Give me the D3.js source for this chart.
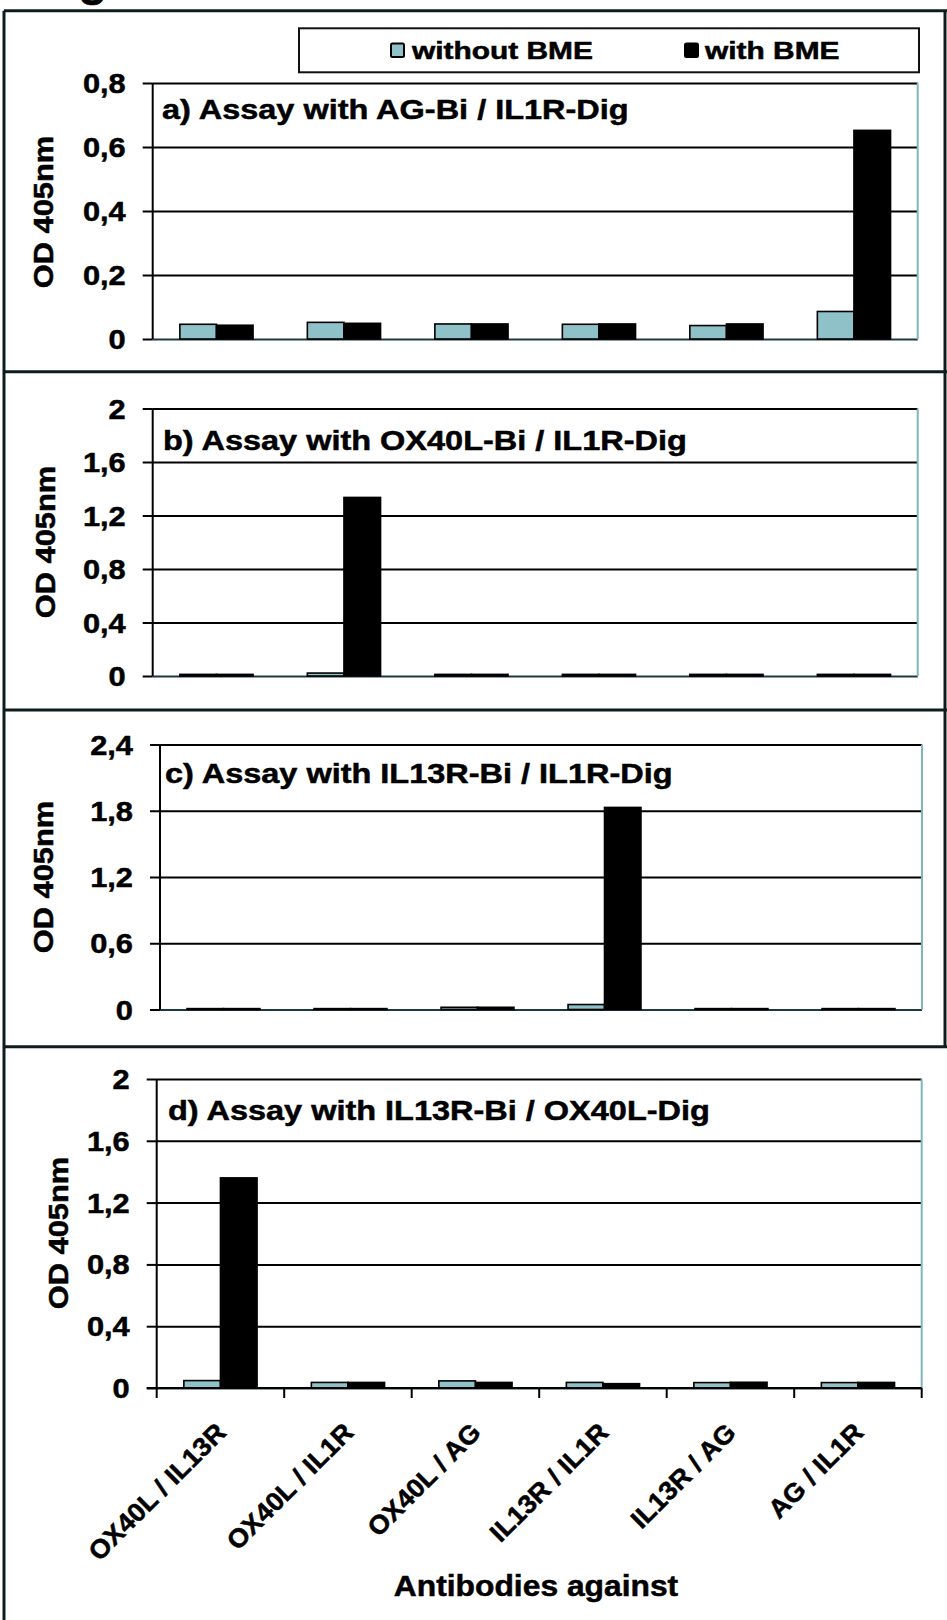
<!DOCTYPE html>
<html>
<head>
<meta charset="utf-8">
<script src="https://cdn.jsdelivr.net/npm/d3@7"></script>
<style>
  html, body { margin: 0; padding: 0; background: #fff; }
  svg { display: block; }
  text { font-family: "Liberation Sans", Arial, sans-serif; font-weight: bold; fill: #000; stroke: #000; stroke-width: 0.5px; }
</style>
</head>
<body>
<script>
// ---------------- DATA ----------------
const categories = ["OX40L / IL13R", "OX40L / IL1R", "OX40L / AG", "IL13R / IL1R", "IL13R / AG", "AG / IL1R"];
const seriesNames = ["without BME", "with BME"];
const panelTitles = [
  "a) Assay with AG-Bi / IL1R-Dig",
  "b) Assay with OX40L-Bi / IL1R-Dig",
  "c) Assay with IL13R-Bi / IL1R-Dig",
  "d) Assay with IL13R-Bi / OX40L-Dig"
];
const figureLabel = "g";
const withoutA = [0.046, 0.052, 0.047, 0.046, 0.042, 0.086];
const withA    = [0.043, 0.049, 0.047, 0.047, 0.047, 0.652];
const withoutB = [0.012, 0.022, 0.012, 0.012, 0.012, 0.012];
const withB    = [0.012, 1.335, 0.012, 0.012, 0.012, 0.012];
const withoutC = [0.008, 0.008, 0.020, 0.045, 0.008, 0.008];
const withC    = [0.008, 0.008, 0.020, 1.830, 0.008, 0.008];
const withoutD = [0.048, 0.036, 0.046, 0.036, 0.035, 0.035];
const withD    = [1.360, 0.036, 0.036, 0.028, 0.037, 0.036];
const ticksA = [0, 0.2, 0.4, 0.6, 0.8];
const ticksB = [0, 0.4, 0.8, 1.2, 1.6, 2];
const ticksC = [0, 0.6, 1.2, 1.8, 2.4];
const ticksD = [0, 0.4, 0.8, 1.2, 1.6, 2];
const yAxisTitle = "OD 405nm";
const xAxisTitle = "Antibodies against";

// ---------------- LAYOUT ----------------
const W = 947, H = 1620;
const colors = { without: "#8ec2c8", with: "#000000" };
const panels = [
  { title: panelTitles[0], without: withoutA, with: withA, ticks: ticksA,
    L: 152.7, R: 917.7, top: 83, bottom: 339, tx: 162, ty: 119, lx: 43, ly: 212 },
  { title: panelTitles[1], without: withoutB, with: withB, ticks: ticksB,
    L: 152.7, R: 917.7, top: 408.5, bottom: 676, tx: 163, ty: 450, lx: 45, ly: 542 },
  { title: panelTitles[2], without: withoutC, with: withC, ticks: ticksC,
    L: 160, R: 922, top: 744.5, bottom: 1009.5, tx: 165, ty: 783, lx: 43, ly: 877 },
  { title: panelTitles[3], without: withoutD, with: withD, ticks: ticksD,
    L: 156.7, R: 921.7, top: 1079, bottom: 1388, tx: 168, ty: 1120, lx: 58, ly: 1233, xAxis: true }
];

const svg = d3.select("body").append("svg")
  .attr("width", W).attr("height", H)
  .attr("viewBox", `0 0 ${W} ${H}`);
svg.append("rect").attr("width", W).attr("height", H).attr("fill", "#fff");

function addText(parent, x, y, str, size, anchor, sx, rot) {
  return parent.append("text")
    .attr("transform", `translate(${x},${y})` + (rot ? ` rotate(${rot})` : "") + ` scale(${sx},1)`)
    .attr("text-anchor", anchor)
    .attr("font-size", size)
    .text(str);
}

const fmt = d => String(d).replace(".", ",");

// partially cropped figure label at the very top
addText(svg, 78, -5, figureLabel, 48, "start", 1);

// ---------------- OUTER FRAME ----------------
const frameColor = "#0f1c1e";
const frame = svg.append("g").attr("stroke", frameColor).attr("stroke-width", 3).attr("fill", "none");
frame.append("line").attr("x1", 4).attr("x2", W).attr("y1", 10.7).attr("y2", 10.7);
frame.append("line").attr("x1", 4).attr("x2", 4).attr("y1", 10.7).attr("y2", H);
frame.append("line").attr("x1", 945).attr("x2", 945).attr("y1", 10.7).attr("y2", 1046.7);
[371.7, 710, 1046.7].forEach(y =>
  frame.append("line").attr("x1", 4).attr("x2", W).attr("y1", y).attr("y2", y));

// ---------------- LEGEND ----------------
const leg = svg.append("g");
leg.append("rect").attr("x", 299).attr("y", 28.3).attr("width", 620).attr("height", 44)
  .attr("fill", "#fff").attr("stroke", "#111").attr("stroke-width", 2);
leg.append("rect").attr("x", 391).attr("y", 43.5).attr("width", 13).attr("height", 13.5)
  .attr("fill", colors.without).attr("stroke", "#000").attr("stroke-width", 2).attr("rx", 1.5);
addText(leg, 412, 59, seriesNames[0], 23, "start", 1.3);
leg.append("rect").attr("x", 685).attr("y", 43.5).attr("width", 13).attr("height", 13.5)
  .attr("fill", colors.with).attr("stroke", "#000").attr("stroke-width", 2).attr("rx", 1.5);
addText(leg, 705, 59, seriesNames[1], 23, "start", 1.3);

// ---------------- PANELS ----------------
panels.forEach(p => {
  const g = svg.append("g");
  const x = d3.scaleBand().domain(categories).range([p.L, p.R]).paddingInner(0).paddingOuter(0);
  const maxV = p.ticks[p.ticks.length - 1];
  const y = d3.scaleLinear().domain([0, maxV]).range([p.bottom, p.top]);
  const w = p.R - p.L;
  const barW = x.bandwidth() * 0.287;

  // gridlines (full width) via axis
  const grid = g.append("g").attr("transform", `translate(${p.L},0)`)
    .call(d3.axisLeft(y).tickValues(p.ticks).tickSize(-w).tickFormat(""));
  grid.select(".domain").remove();
  grid.selectAll(".tick line").attr("stroke", "#000").attr("stroke-width", 2);
  grid.selectAll(".tick").filter(d => d === 0).select("line").attr("stroke", "#1c3a3e");

  // short outer ticks + labels
  const ax = g.append("g").attr("transform", `translate(${p.L},0)`)
    .call(d3.axisLeft(y).tickValues(p.ticks).tickSize(10).tickPadding(0).tickFormat(""));
  ax.select(".domain").attr("stroke", "#000").attr("stroke-width", 2)
    .attr("d", `M0,${p.top}V${p.bottom}`);
  ax.selectAll(".tick line").attr("stroke", "#000").attr("stroke-width", 2);
  p.ticks.forEach(t => addText(g, p.L - 27, y(t) + 10, fmt(t), 28, "end", 1.1));

  // right border
  g.append("line").attr("x1", p.R).attr("x2", p.R).attr("y1", p.top).attr("y2", p.bottom)
    .attr("stroke", "#7fb6bd").attr("stroke-width", 2);

  // bars
  const rows = categories.map((c, i) => ({ c, a: p.without[i], b: p.with[i] }));
  const cx = c => x(c) + x.bandwidth() / 2;
  g.selectAll(".bw").data(rows).enter().append("rect")
    .attr("x", d => cx(d.c) - barW).attr("width", barW)
    .attr("y", d => y(d.a)).attr("height", d => y(0) - y(d.a))
    .attr("fill", colors.without).attr("stroke", "#000").attr("stroke-width", 1.6);
  g.selectAll(".bb").data(rows).enter().append("rect")
    .attr("x", d => cx(d.c)).attr("width", barW)
    .attr("y", d => y(d.b)).attr("height", d => y(0) - y(d.b))
    .attr("fill", colors.with).attr("stroke", "#000").attr("stroke-width", 1.6);

  // title
  addText(g, p.tx, p.ty, p.title, 28, "start", 1.16);
  // y axis title
  addText(g, p.lx + 10, p.ly, yAxisTitle, 28, "middle", 1.1, -90);

  if (p.xAxis) {
    const xa = g.append("g").attr("transform", `translate(0,${p.bottom})`)
      .call(d3.axisBottom(x).tickSize(0).tickFormat(""));
    xa.select(".domain").attr("stroke", "#000").attr("stroke-width", 2)
      .attr("d", `M${p.L - 10},0H${p.R}`);
    const bounds = [p.L].concat(categories.map(c => x(c) + x.bandwidth()));
    bounds.forEach(bx => g.append("line").attr("x1", bx).attr("x2", bx)
      .attr("y1", p.bottom).attr("y2", p.bottom + 10).attr("stroke", "#000").attr("stroke-width", 2));
    categories.forEach(c => addText(g, cx(c) + 7, p.bottom + 46, c, 26, "end", 1.04, -45));
    addText(g, 536, 1596, xAxisTitle, 30, "middle", 1.06);
  }
});
</script>
</body>
</html>
